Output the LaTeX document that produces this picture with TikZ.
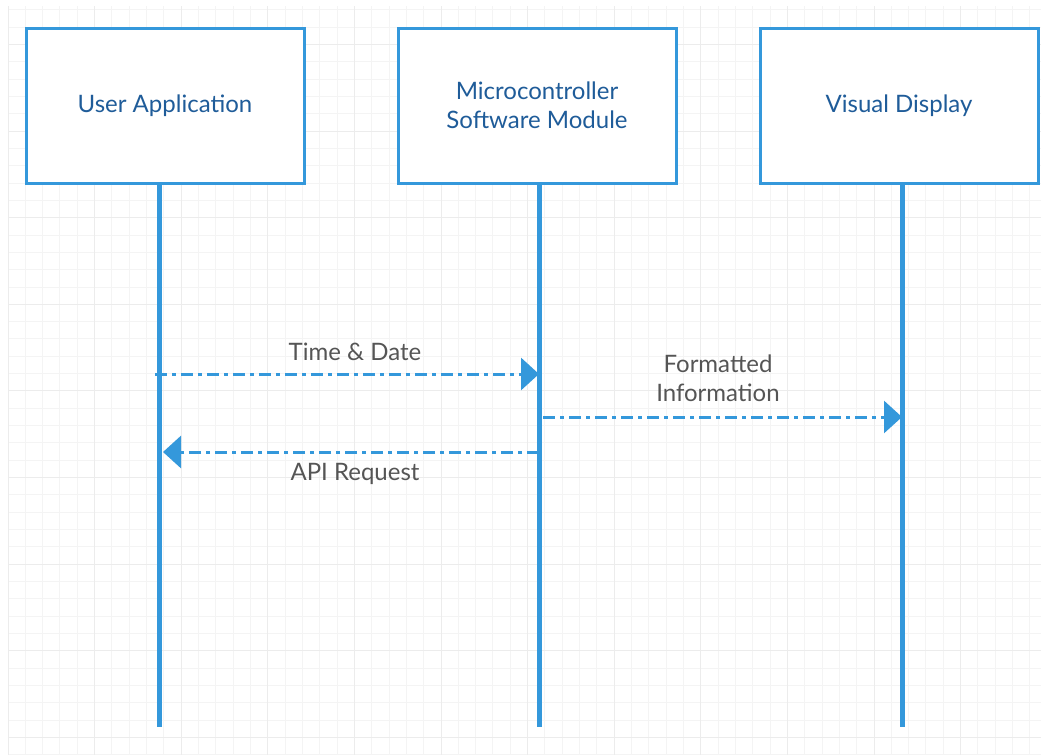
\documentclass[tikz,border=0pt]{standalone}
\usepackage{fontspec}
\setmainfont{Lato}
\usetikzlibrary{arrows.meta,positioning}

\definecolor{lineblue}{RGB}{52,152,219}
\definecolor{textblue}{RGB}{31,92,153}
\definecolor{labelgray}{RGB}{85,85,85}
\definecolor{gridminor}{RGB}{244,244,244}
\definecolor{gridmajor}{RGB}{236,236,236}

\tikzset{
  actor/.style={draw=lineblue, line width=3pt, fill=white,
    minimum width=278pt, minimum height=155pt, text=textblue,
    font=\fontsize{24}{29}\selectfont, align=center},
  lifeline/.style={lineblue, line width=5pt},
  msg/.style={lineblue, line width=3pt,
    dash pattern=on 12pt off 5pt on 4pt off 5pt,
    -{Triangle[length=18pt,width=32pt]}},
  msglabel/.style={text=labelgray, font=\fontsize{24}{29}\selectfont, align=center},
  minorgrid/.style={gridminor, line width=1pt},
  majorgrid/.style={gridmajor, line width=1pt},
}

\begin{document}
\begin{tikzpicture}[x=1pt,y=-1pt]
    \useasboundingbox[fill=white] (0,0) rectangle (1041,755);
    % background grid
    \begin{scope}
      \clip (8,6) rectangle (1041,755);
      \foreach \i in {0,...,60}
        \draw[minorgrid] (8+17.32*\i,6) -- (8+17.32*\i,755);
      \foreach \j in {0,...,44}
        \draw[minorgrid] (8,-7.42+17.32*\j) -- (1041,-7.42+17.32*\j);
      \foreach \i in {0,...,12}
        \draw[majorgrid] (8+86.6*\i,6) -- (8+86.6*\i,755);
      \foreach \j in {0,...,9}
        \draw[majorgrid] (8,44.5+86.6*\j) -- (1041,44.5+86.6*\j);
    \end{scope}

    % participants
    \node[actor] (user) at (165,105.5) {User Application};
    \node[actor] (mcu) at (537,105.5) {Microcontroller\\Software Module};
    \node[actor] (display) at (899,105.5) {Visual Display};

    % lifelines
    \coordinate (user top) at (159,183);
    \coordinate (user bot) at (159,727);
    \coordinate (mcu top) at (539,183);
    \coordinate (mcu bot) at (539,727);
    \coordinate (display top) at (902,183);
    \coordinate (display bot) at (902,727);
    \draw[lifeline] (user top) -- (user bot);
    \draw[lifeline] (mcu top) -- (mcu bot);
    \draw[lifeline] (display top) -- (display bot);

    % messages
    \coordinate (td from) at (155,374);
    \coordinate (td to) at (539,374);
    \coordinate (fi from) at (543,417);
    \coordinate (fi to) at (902,417);
    \coordinate (api from) at (539,452);
    \coordinate (api to) at (163,452);
    \draw[msg] (td from) -- (td to);
    \draw[msg] (fi from) -- (fi to);
    \draw[msg] (api from) -- (api to);
    \node[msglabel] (timedate) at (355,352) {Time \& Date};
    \node[msglabel] (formatted) at (718,378.5) {Formatted\\Information};
    \node[msglabel] (apireq) at (355,474) {API Request};
\end{tikzpicture}
\end{document}
